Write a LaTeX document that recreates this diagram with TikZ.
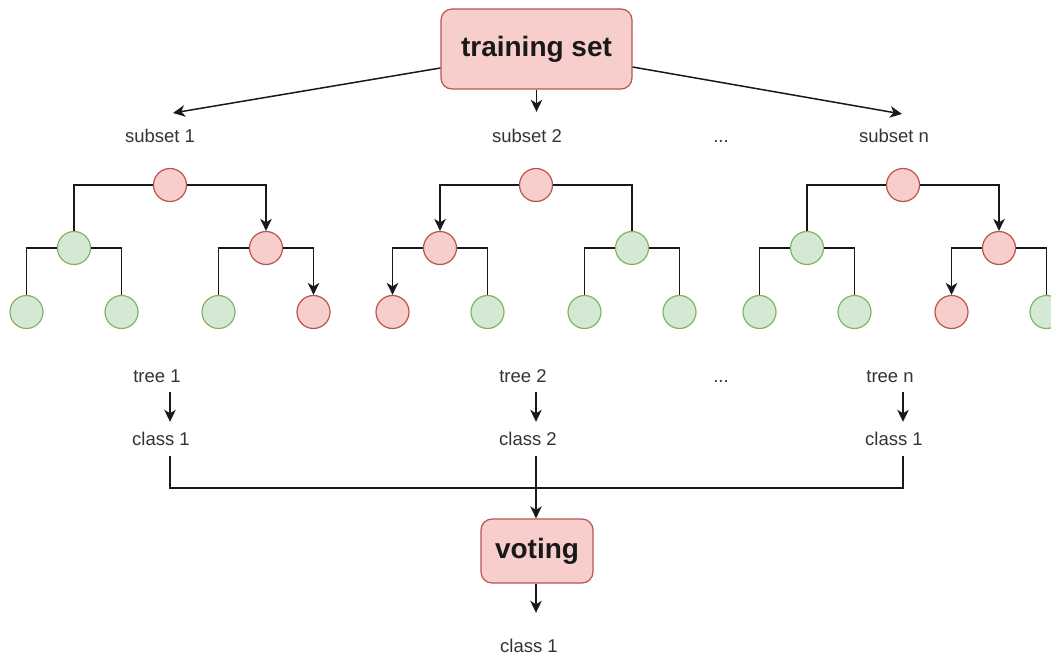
\documentclass[tikz,border=0pt]{standalone}
\usepackage{fontspec}
\setmainfont{Liberation Sans}
\newfontfamily\lab{Liberation Sans}
\usetikzlibrary{arrows.meta}
\definecolor{redfill}{HTML}{F8CECC}
\definecolor{redline}{HTML}{B85450}
\definecolor{greenfill}{HTML}{D5E8D4}
\definecolor{greenline}{HTML}{82B366}
\definecolor{labtext}{HTML}{333333}
\tikzset{
  lbl/.style={font=\lab\fontsize{18.5}{22}\selectfont, text=labtext,
    text height=14pt, text depth=4pt, inner sep=0pt, anchor=base},
  bigbox/.style={draw=redline, fill=redfill, line width=1.2pt, rounded corners=11pt,
    font=\bfseries\fontsize{28}{32}\selectfont, text=black!90, inner sep=0pt},
  rnode/.style={circle, draw=redline, fill=redfill, line width=1.2pt,
    minimum size=33pt, inner sep=0pt},
  gnode/.style={circle, draw=greenline, fill=greenfill, line width=1.2pt,
    minimum size=33pt, inner sep=0pt},
  conn/.style={draw=black!90, line width=1.5pt},
  arr/.style={conn, -{Stealth[length=12pt,width=11.5pt,inset=3.5pt]}}
}
\begin{document}
\begin{tikzpicture}[x=1pt,y=-1pt]
\useasboundingbox (0,0) rectangle (1051,655);
\clip (0,0) rectangle (1051,655);

% top box and the three subsets
\node[bigbox, minimum width=191pt, minimum height=80pt] (ts) at (536.5,49) {training set};
\node[lbl] (s1) at (160,143) {subset 1};
\node[lbl] (s2) at (527,143) {subset 2};
\node[lbl] (sdots) at (721,143) {...};
\node[lbl] (sn) at (894,143) {subset n};
\coordinate (s1tip) at (173,113);
\coordinate (sntip) at (902,114);
\draw[arr] ([yshift=-19pt]ts.west) -- (s1tip);
\draw[arr] ([yshift=-18pt]ts.east) -- (sntip);
\draw[arr, shorten >=17pt] (ts.south) -- (ts.south |- s2.north);

% tree 1
\node[rnode] (a0) at (170,185) {};
\node[gnode] (a1) at (74,248) {};
\node[rnode] (a2) at (266,248) {};
\node[gnode] (a11) at (26.5,312) {};
\node[gnode] (a12) at (121.5,312) {};
\node[gnode] (a21) at (218.5,312) {};
\node[rnode] (a22) at (313.5,312) {};
\draw[conn] (a0.west) -| (a1.north);
\draw[arr] (a0.east) -| (a2.north);
\draw[conn] (a1.west) -| (a11.north);
\draw[conn] (a1.east) -| (a12.north);
\draw[conn] (a2.west) -| (a21.north);
\draw[arr] (a2.east) -| (a22.north);

% tree 2
\node[rnode] (b0) at (536,185) {};
\node[rnode] (b1) at (440,248) {};
\node[gnode] (b2) at (632,248) {};
\node[rnode] (b11) at (392.5,312) {};
\node[gnode] (b12) at (487.5,312) {};
\node[gnode] (b21) at (584.5,312) {};
\node[gnode] (b22) at (679.5,312) {};
\draw[arr] (b0.west) -| (b1.north);
\draw[conn] (b0.east) -| (b2.north);
\draw[arr] (b1.west) -| (b11.north);
\draw[conn] (b1.east) -| (b12.north);
\draw[conn] (b2.west) -| (b21.north);
\draw[conn] (b2.east) -| (b22.north);

% tree n
\node[rnode] (c0) at (903,185) {};
\node[gnode] (c1) at (807,248) {};
\node[rnode] (c2) at (999,248) {};
\node[gnode] (c11) at (759.5,312) {};
\node[gnode] (c12) at (854.5,312) {};
\node[rnode] (c21) at (951.5,312) {};
\node[gnode] (c22) at (1046.5,312) {};
\draw[conn] (c0.west) -| (c1.north);
\draw[arr] (c0.east) -| (c2.north);
\draw[conn] (c1.west) -| (c11.north);
\draw[conn] (c1.east) -| (c12.north);
\draw[arr] (c2.west) -| (c21.north);
\draw[conn] (c2.east) -| (c22.north);

% tree outputs
\node[lbl] (t1) at (157,382) {tree 1};
\node[lbl] (t2) at (523,382) {tree 2};
\node[lbl] (tdots) at (721,382) {...};
\node[lbl] (tn) at (890,382) {tree n};
\node[lbl] (k1) at (161,445) {class 1};
\node[lbl] (k2) at (528,445) {class 2};
\node[lbl] (kn) at (894,445) {class 1};
\draw[arr, shorten <=6pt, shorten >=9pt] (t1.south -| a0) -- (k1.north -| a0);
\draw[arr, shorten <=6pt, shorten >=9pt] (t2.south -| b0) -- (k2.north -| b0);
\draw[arr, shorten <=6pt, shorten >=9pt] (tn.south -| c0) -- (kn.north -| c0);

% voting
\node[bigbox, minimum width=112pt, minimum height=64pt] (vote) at (537,551) {voting};
\coordinate (join) at (536,488);
\draw[conn] (k1.south -| a0) ++(0,7) |- (join);
\draw[conn] (kn.south -| c0) ++(0,7) |- (join);
\draw[arr, shorten <=7pt] (k2.south -| b0) -- (b0 |- vote.north);
\node[lbl] (res) at (529,652) {class 1};
\draw[arr, shorten >=25pt] (b0 |- vote.south) -- (b0 |- res.north);
\end{tikzpicture}
\end{document}
